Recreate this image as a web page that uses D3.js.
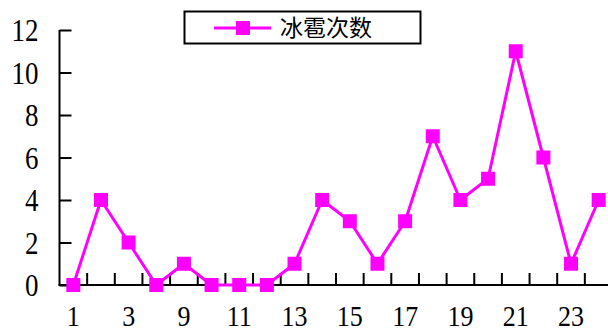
<!DOCTYPE html>
<html><head><meta charset="utf-8">
<script src="https://cdn.jsdelivr.net/npm/d3@7"></script>
<style>body{margin:0;background:#fff}svg{display:block}
.serif{font-family:"Liberation Serif";}</style>
</head><body>
<script>
const categories = [1,2,3,8,9,10,11,12,13,14,15,16,17,18,19,20,21,22,23,24];
const hailCounts = [0,4,2,0,1,0,0,0,1,4,3,1,3,7,4,5,11,6,1,4];
const yTicks = [0,2,4,6,8,10,12];
const seriesName = "冰雹次数";

const W = 608, H = 333;
const color = "#FF00FF";
const svg = d3.select("body").append("svg").attr("width", W).attr("height", H);

const x = d3.scaleBand().domain(categories).range([59.5, 612.5]);
const y = d3.scaleLinear().domain([0, 12]).range([285, 30]);

// Y axis
const yAxis = svg.append("g").attr("transform", "translate(59.5,0)")
  .call(d3.axisRight(y).tickValues(yTicks).tickSize(12).tickSizeOuter(0).tickFormat(d3.format("d")));
yAxis.attr("font-family", null).attr("font-size", null);
yAxis.select(".domain").attr("stroke", "#000").attr("stroke-width", 2)
  .attr("d", `M0,${y(12)}V${y(0)}`);
yAxis.selectAll(".tick line").attr("stroke", "#000").attr("stroke-width", 2);
yAxis.selectAll(".tick text").attr("class", "serif").attr("x", -21).attr("text-anchor", "end")
  .style("font-size", "27px").attr("fill", "#000").attr("dy", "0.34em")
  .attr("transform", "scale(1,1.15)");

// X axis
const xAxisG = svg.append("g").attr("transform", "translate(0,285)");
xAxisG.append("line").attr("x1", 58.5).attr("x2", W).attr("y1", 0).attr("y2", 0)
  .attr("stroke", "#000").attr("stroke-width", 2);
xAxisG.selectAll("line.tk").data(categories.slice(1)).join("line").attr("class", "tk")
  .attr("x1", d => x(d)).attr("x2", d => x(d)).attr("y1", 0).attr("y2", -12)
  .attr("stroke", "#000").attr("stroke-width", 2);
xAxisG.selectAll("g.xl").data(categories.filter((d, i) => i % 2 === 0)).join("g")
  .attr("class", "xl")
  .attr("transform", d => `translate(${x(d) + x.bandwidth() / 2},41) scale(1,1.12)`)
  .append("text").attr("class", "serif")
  .attr("text-anchor", "middle").style("font-size", "26px")
  .attr("fill", "#000").text(d => d);

// Line
const line = d3.line().x((d, i) => x(categories[i]) + x.bandwidth() / 2).y(d => y(d));
svg.append("path").datum(hailCounts).attr("d", line)
  .attr("fill", "none").attr("stroke", color).attr("stroke-width", 3).attr("stroke-linejoin", "round");
const ms = 14;
svg.selectAll("rect.m").data(hailCounts).join("rect").attr("class", "m")
  .attr("x", (d, i) => x(categories[i]) + x.bandwidth() / 2 - ms / 2)
  .attr("y", d => y(d) - ms / 2).attr("width", ms).attr("height", ms).attr("fill", color);

// Legend
const lg = svg.append("g");
lg.append("rect").attr("x", 184.5).attr("y", 11.5).attr("width", 236).attr("height", 32)
  .attr("fill", "#fff").attr("stroke", "#000").attr("stroke-width", 2);
lg.append("line").attr("x1", 214).attr("x2", 271).attr("y1", 28).attr("y2", 28)
  .attr("stroke", color).attr("stroke-width", 3);
lg.append("rect").attr("x", 236).attr("y", 21).attr("width", 14).attr("height", 14).attr("fill", color);
lg.append("text").attr("x", 280).attr("y", 36).style("font-family", "'Noto Sans CJK SC'")
  .style("font-size", "23px").attr("fill", "#000").text(seriesName);
</script>
</body></html>
